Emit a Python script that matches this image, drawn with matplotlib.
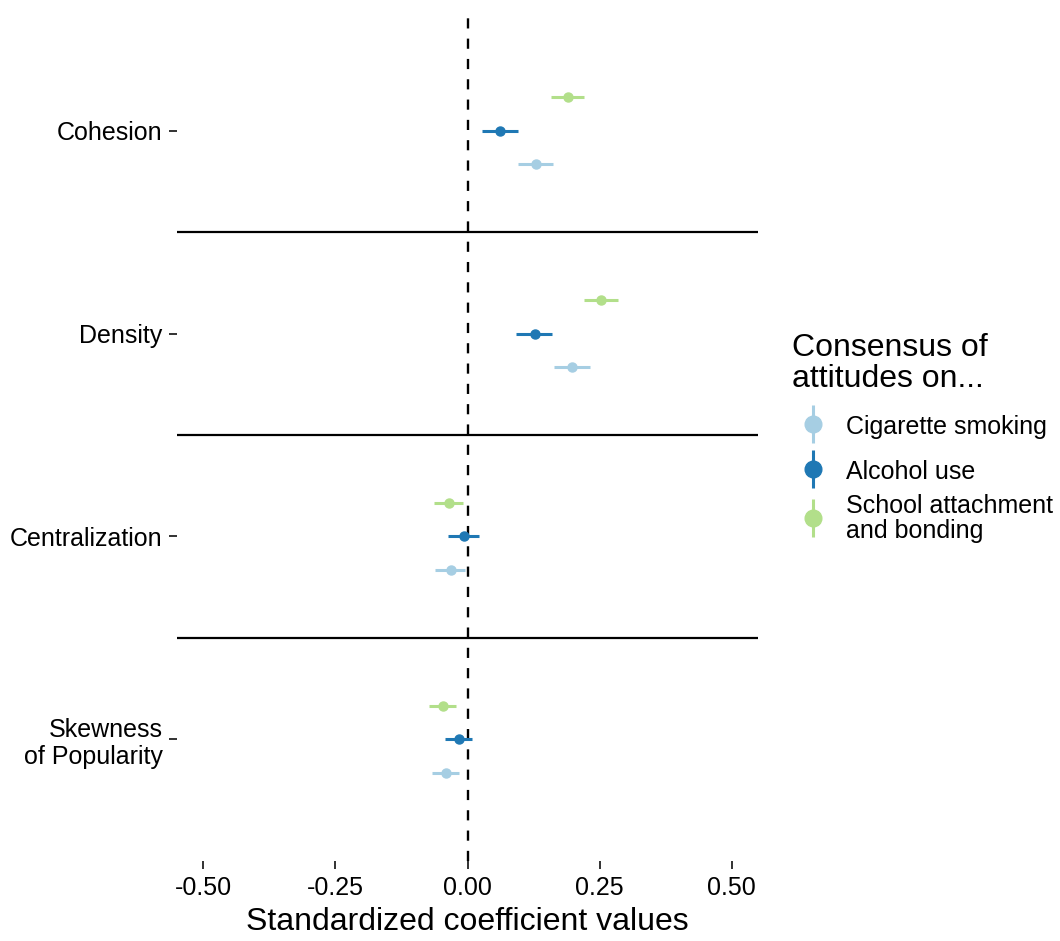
import numpy as np
import matplotlib.pyplot as plt
from matplotlib.lines import Line2D
from matplotlib.legend_handler import HandlerTuple
from matplotlib.transforms import Affine2D

plt.rcParams['font.family'] = ['Liberation Sans', 'DejaVu Sans']

# data
categories = ["Cohesion", "Density", "Centralization", "Skewness\nof Popularity"]
series = ["Cigarette smoking", "Alcohol use", "School attachment\nand bonding"]
colors = ["#A6CEE3", "#1F78B4", "#B2DF8A"]

cig_est = [0.129, 0.198, -0.032, -0.041]
cig_lo = [0.095, 0.164, -0.061, -0.068]
cig_hi = [0.162, 0.231, -0.004, -0.016]

alc_est = [0.062, 0.127, -0.006, -0.017]
alc_lo = [0.028, 0.092, -0.036, -0.043]
alc_hi = [0.095, 0.160, 0.022, 0.009]

sch_est = [0.191, 0.253, -0.035, -0.047]
sch_lo = [0.158, 0.221, -0.064, -0.072]
sch_hi = [0.221, 0.284, -0.009, -0.021]

xticks = [-0.50, -0.25, 0.00, 0.25, 0.50]

est = [cig_est, alc_est, sch_est]
lo = [cig_lo, alc_lo, sch_lo]
hi = [cig_hi, alc_hi, sch_hi]


class KeyHandler(HandlerTuple):
    # centre the key on the label instead of on the handle box
    def create_artists(self, legend, orig_handle, xdescent, ydescent,
                       width, height, fontsize, trans):
        trans = trans + Affine2D().translate(0, -5)
        return super().create_artists(legend, orig_handle, xdescent, ydescent,
                                      width, height, fontsize, trans)


fig = plt.figure(figsize=(10.6, 9.41), dpi=100)
ax = fig.add_axes([177 / 1060, 80 / 941, 581 / 1060, 852 / 941])

ypos = np.arange(len(categories))
offsets = [0.165, 0.0, -0.165]  # y axis is inverted below

ax.axvline(0, color='black', lw=1.7, dashes=(4.3, 4.3), zorder=1)
for k in range(len(categories) - 1):
    ax.axhline(k + 0.5, color='black', lw=1.6, zorder=1)

for s in range(3):
    e = np.array(est[s])
    y = ypos + offsets[s]
    ax.hlines(y, lo[s], hi[s], color=colors[s], lw=2.2, zorder=3)
    ax.plot(e, y, 'o', color=colors[s], ms=6.5, zorder=4)

ax.set_xlim(-0.55, 0.55)
ax.set_ylim(len(categories) - 0.4, -0.6)
ax.set_xticks(xticks)
ax.set_xticklabels([f"{t:.2f}" for t in xticks])
ax.set_yticks(ypos)
ax.set_yticklabels(categories, linespacing=1.15)
ax.tick_params(axis='both', labelsize=18, length=5.5, width=1.3, color='#222222', labelcolor='black')
ax.tick_params(axis='x', pad=5)
ax.tick_params(axis='y', pad=5)
for sp in ax.spines.values():
    sp.set_visible(False)
ax.set_xlabel("Standardized coefficient values", fontsize=23, labelpad=5)

handles = []
for s in range(3):
    vline = Line2D([], [], marker='|', ms=27, mew=2.2, ls='none', color=colors[s])
    dot = Line2D([], [], marker='o', ms=12, ls='none', color=colors[s])
    handles.append((vline, dot))

# rows are sized by the key height, like the ggplot legend
leg = ax.legend(handles, series, handler_map={tuple: KeyHandler(ndivide=1, pad=0)},
                title="Consensus of\nattitudes on...", title_fontsize=23, fontsize=18,
                frameon=False, loc='upper left', bbox_to_anchor=(782 / 1060, 1 - 323 / 941),
                bbox_transform=fig.transFigure, alignment='left', handlelength=1.7,
                handleheight=2.4, handletextpad=0.45, labelspacing=0.0, borderaxespad=0)
leg._legend_box.sep = 7
leg.get_title().set_linespacing(1.05)
for t in leg.get_texts():
    t.set_linespacing(1.05)

fig.savefig("out.png", dpi=100)
